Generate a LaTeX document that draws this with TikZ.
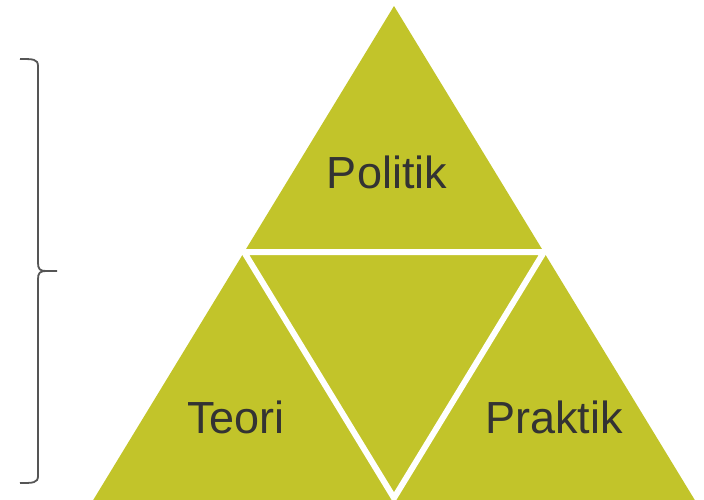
\documentclass[tikz,border=0pt]{standalone}
\usepackage{fontspec}
\setmainfont{Liberation Sans}
\definecolor{olive}{RGB}{194,196,42}
\definecolor{txtgray}{RGB}{51,51,51}
\definecolor{bracegray}{RGB}{85,85,85}
\begin{document}
\begin{tikzpicture}[x=1pt,y=-1pt,
  lbl/.style={anchor=base,text=txtgray,font=\fontsize{45}{54}\selectfont,inner sep=0pt},
  gap/.style={draw=white,line width=6pt,line join=miter},
  bracestyle/.style={draw=bracegray,line width=1.8pt}]
\useasboundingbox (0,0) rectangle (704,499);
% big triangle
\coordinate (apex) at (394,6);
\coordinate (bl) at (92,502);
\coordinate (br) at (696,502);
\coordinate (ml) at (244,252);
\coordinate (mr) at (544,252);
\coordinate (mb) at (394,498);
\fill[olive] (apex) -- (br) -- (bl) -- cycle;
\draw[gap] (ml) -- (mr) -- (mb) -- cycle;
% labels
\node[lbl] (politik) at (387,188) {Politik};
\node[lbl] (teori) at (236,433) {Teori};
\node[lbl] (praktik) at (554,433) {Praktik};
% brace
\draw[bracestyle] (20,59) .. controls (33,59) and (38,59) .. (38,66)
  -- (38,263) .. controls (38,269) and (40,271) .. (46,271) -- (57,271);
\draw[bracestyle] (46,271) .. controls (40,271) and (38,273) .. (38,279)
  -- (38,476) .. controls (38,483) and (33,483) .. (20,483);
\end{tikzpicture}
\end{document}
